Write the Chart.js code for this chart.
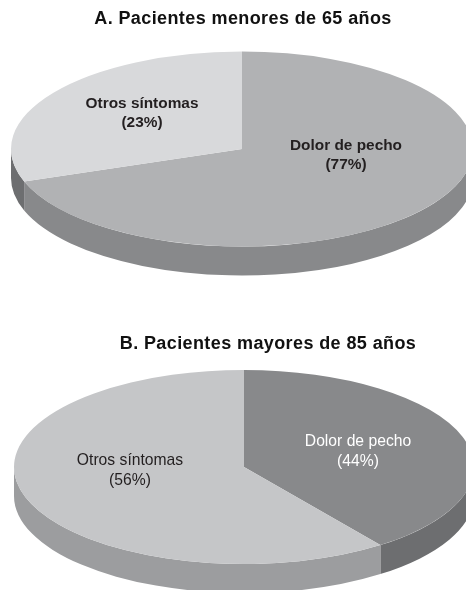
<!DOCTYPE html>
<html>
<head>
<meta charset="utf-8">
<script src="https://cdn.jsdelivr.net/npm/chart.js@4"></script>
<style>
  body { margin: 0; background: #fff; overflow: hidden; }
  canvas { position: absolute; left: 0; }
</style>
</head>
<body>
<canvas id="pie-a" width="466" height="295" style="top:0"></canvas>
<canvas id="pie-b" width="466" height="295" style="top:295px"></canvas>
<script>
const categories = ['Dolor de pecho', 'Otros síntomas'];

// printed percentages
const printedA = [77, 23];
const printedB = [44, 56];

// slice sizes as they are actually drawn in the picture (the figure does not follow its own labels)
const drawnA = [69.6, 30.4];
const drawnB = [39.9, 60.1];

const titleA = 'A. Pacientes menores de 65 años';
const titleB = 'B. Pacientes mayores de 85 años';

const FONT = '"Liberation Sans", Arial, sans-serif';

// flattened 3d look: squash the pie into an ellipse and put a wall below it
const pie3d = {
  id: 'pie3d',
  beforeDraw(chart) {
    chart.ctx.letterSpacing = '0.4px'; // title runs a bit wide in the reference
  },
  beforeDatasetsDraw(chart, args, opts) {
    const ctx = chart.ctx;
    ctx.letterSpacing = '0px';
    const arcs = chart.getDatasetMeta(0).data;
    const R = arcs[0].outerRadius;
    arcs.forEach((arc, i) => {
      // only the front half of the rim can be seen
      const from = Math.max(arc.startAngle, 0);
      const to = Math.min(arc.endAngle, Math.PI);
      if (from >= to) return;
      ctx.save();
      ctx.translate(opts.cx, opts.cy);
      ctx.scale(opts.rx / R, opts.ry / R);
      const d = opts.depth * R / opts.ry;
      ctx.beginPath();
      ctx.arc(0, 0, R, from, to);
      ctx.arc(0, d, R, to, from, true);
      ctx.closePath();
      ctx.fillStyle = opts.wallColors[i];
      ctx.fill();
      ctx.restore();
    });
    ctx.save();
    ctx.translate(opts.cx, opts.cy);
    ctx.scale(opts.rx / R, opts.ry / R);
    ctx.translate(-arcs[0].x, -arcs[0].y);
  },
  afterDatasetsDraw(chart, args, opts) {
    const ctx = chart.ctx;
    ctx.restore();
    ctx.font = opts.labelFont;
    ctx.textAlign = 'center';
    ctx.textBaseline = 'middle';
    opts.labels.forEach(l => {
      ctx.fillStyle = l.color;
      ctx.fillText(l.lines[0], l.x, l.y);
      ctx.fillText(l.lines[1], l.x, l.y + opts.lineGap);
    });
  }
};

function makePie(id, title, drawn, printed, colors, extra) {
  new Chart(document.getElementById(id), {
    type: 'pie',
    plugins: [pie3d],
    data: {
      labels: categories,
      datasets: [{
        data: drawn,
        backgroundColor: colors,
        borderWidth: 0,
        clip: false
      }]
    },
    options: {
      responsive: false,
      animation: false,
      events: [],
      layout: { padding: { left: extra.titleShift } },
      plugins: {
        legend: { display: false },
        tooltip: { enabled: false },
        title: {
          display: true,
          text: title,
          color: '#111',
          font: { family: FONT, size: 18, weight: 'bold' },
          padding: { top: extra.titleTop, bottom: 4 }
        },
        pie3d: {
          cx: extra.cx, cy: extra.cy, rx: extra.rx, ry: extra.ry,
          depth: 29,
          wallColors: extra.wallColors,
          labelFont: extra.labelFont,
          lineGap: extra.lineGap,
          labels: categories.map((c, i) => ({
            lines: [c, '(' + printed[i] + '%)'],
            x: extra.labelPos[i][0],
            y: extra.labelPos[i][1],
            color: extra.labelColors[i]
          }))
        }
      }
    }
  });
}

makePie('pie-a', titleA, drawnA, printedA, ['#b1b2b4', '#d8d9db'], {
  titleShift: 20, titleTop: 8,
  cx: 242, cy: 149, rx: 231, ry: 97.5,
  wallColors: ['#88898b', '#6d6e70'],
  labelFont: 'bold 15.4px ' + FONT,
  labelPos: [[346, 146], [142, 104]],
  labelColors: ['#231f20', '#231f20'],
  lineGap: 19
});

makePie('pie-b', titleB, drawnB, printedB, ['#88898b', '#c5c6c8'], {
  titleShift: 70, titleTop: 38,
  cx: 244, cy: 172, rx: 230, ry: 97,
  wallColors: ['#6d6e70', '#9c9d9f'],
  labelFont: '15.7px ' + FONT,
  labelPos: [[358, 147], [130, 166]],
  labelColors: ['#ffffff', '#231f20'],
  lineGap: 20
});
</script>
</body>
</html>
